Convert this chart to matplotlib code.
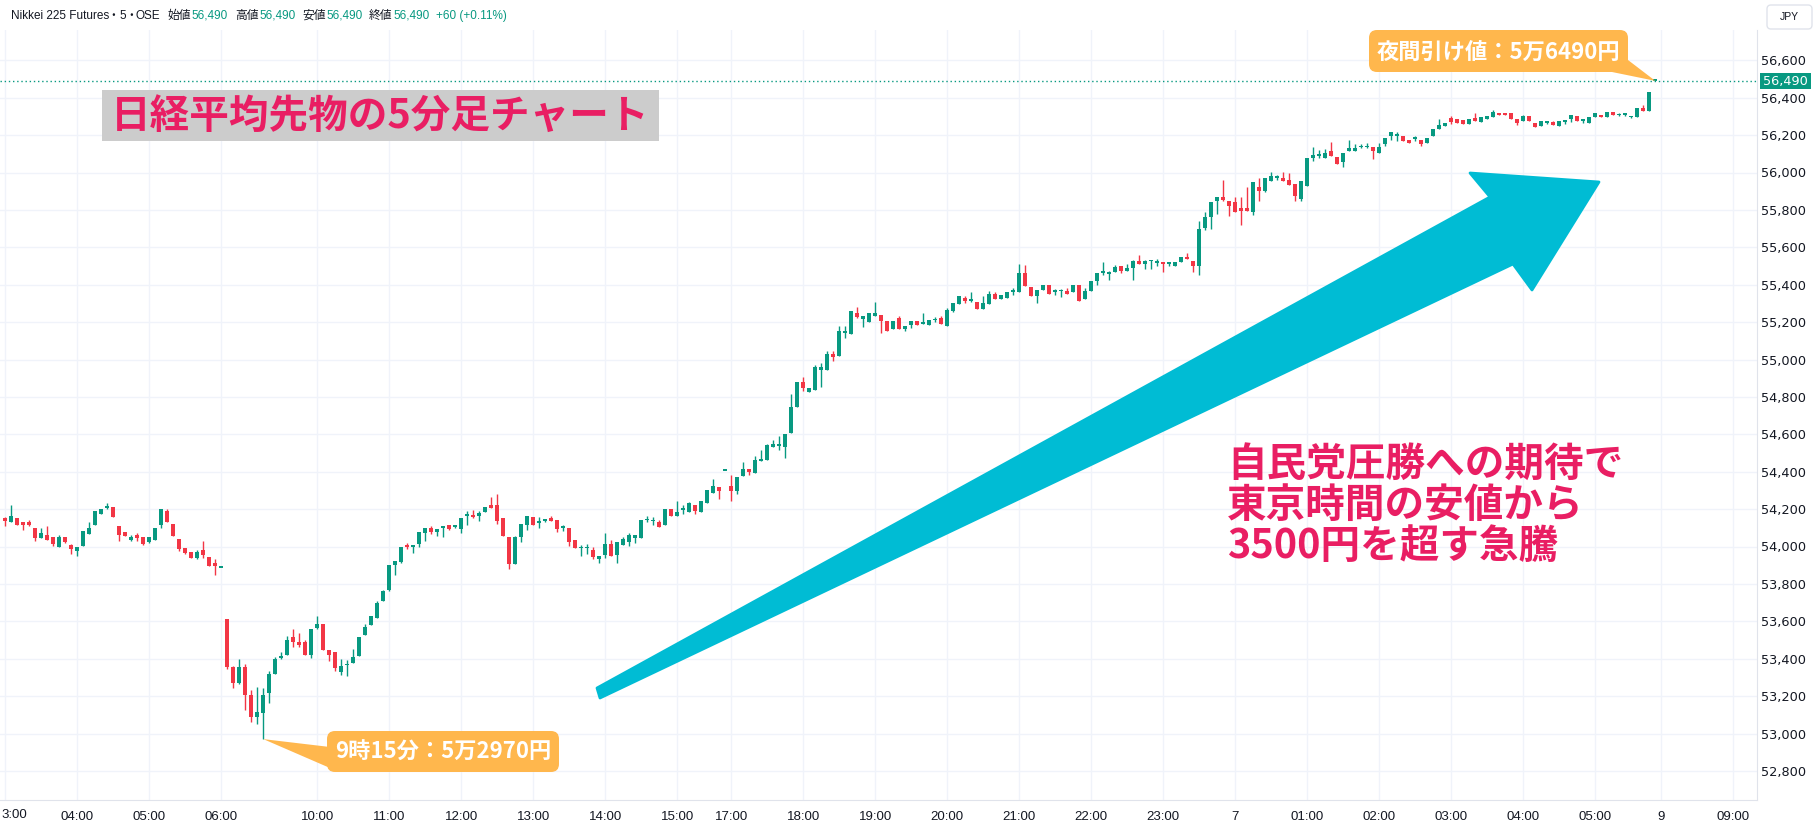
import numpy as np
import matplotlib
matplotlib.use('Agg')
import matplotlib.pyplot as plt
from matplotlib.patches import Polygon, FancyBboxPatch, Rectangle
from matplotlib.transforms import Affine2D

W, H = 1818, 835
JP = ['Noto Sans CJK JP', 'DejaVu Sans']
UP, DOWN = '#089981', '#F23645'

# 5-minute bars (open, high, low, close)
# night session tail 03:00-06:00
early_bars = [
    (54150, 54160, 54110, 54135), (54130, 54220, 54130, 54165), (54150, 54150, 54115, 54115),
    (54130, 54130, 54090, 54115), (54130, 54140, 54110, 54115), (54100, 54100, 54030, 54045),
    (54045, 54100, 54045, 54070), (54060, 54110, 54035, 54035), (54050, 54050, 54005, 54015),
    (53995, 54060, 53995, 54050), (54050, 54050, 54020, 54025), (54010, 54015, 53960, 53985),
    (53975, 54000, 53950, 54000), (54005, 54085, 54005, 54085), (54065, 54130, 54065, 54100),
    (54115, 54190, 54115, 54190), (54175, 54200, 54175, 54200), (54205, 54230, 54200, 54210),
    (54210, 54210, 54160, 54160), (54110, 54110, 54030, 54060), (54080, 54080, 54055, 54055),
    (54035, 54060, 54030, 54050), (54060, 54070, 54030, 54045), (54050, 54050, 54010, 54015),
    (54025, 54050, 54020, 54050), (54035, 54100, 54035, 54100), (54115, 54200, 54100, 54200),
    (54190, 54200, 54130, 54130), (54120, 54120, 54055, 54055), (54040, 54040, 53975, 53985),
    (53990, 53990, 53960, 53965), (53970, 53970, 53940, 53940), (53940, 53980, 53935, 53970),
    (53980, 54030, 53940, 53955), (53945, 53945, 53895, 53895), (53910, 53935, 53850, 53895),
    (53885, 53885, 53885, 53885),
]

# day session 08:45-15:45
day_bars = [
    (53610, 53610, 53345, 53355), (53355, 53360, 53245, 53270), (53270, 53400, 53265, 53355),
    (53355, 53370, 53125, 53205), (53205, 53230, 53060, 53090), (53090, 53250, 53050, 53115),
    (53110, 53245, 52970, 53205), (53215, 53335, 53165, 53320), (53320, 53410, 53320, 53400),
    (53405, 53435, 53400, 53415), (53420, 53520, 53420, 53500), (53515, 53560, 53465, 53490),
    (53490, 53540, 53465, 53475), (53490, 53500, 53420, 53420), (53420, 53560, 53405, 53560),
    (53565, 53630, 53560, 53585), (53585, 53585, 53445, 53445), (53445, 53445, 53390, 53420),
    (53435, 53435, 53335, 53350), (53330, 53400, 53315, 53360), (53365, 53395, 53305, 53370),
    (53375, 53450, 53375, 53410), (53415, 53515, 53415, 53515), (53525, 53585, 53525, 53570),
    (53580, 53630, 53580, 53630), (53615, 53710, 53615, 53700), (53710, 53770, 53710, 53760),
    (53765, 53900, 53760, 53900), (53900, 53920, 53850, 53920), (53915, 54000, 53910, 54000),
    (54010, 54020, 53985, 54000), (54000, 54005, 53965, 54005), (54015, 54080, 54000, 54080),
    (54070, 54100, 54030, 54100), (54100, 54110, 54065, 54080), (54080, 54095, 54055, 54095),
    (54100, 54110, 54050, 54105), (54115, 54115, 54090, 54095), (54105, 54110, 54100, 54110),
    (54095, 54150, 54070, 54150), (54165, 54190, 54115, 54170), (54165, 54195, 54155, 54160),
    (54165, 54190, 54135, 54180), (54185, 54210, 54185, 54210), (54220, 54265, 54205, 54205),
    (54220, 54280, 54120, 54135), (54150, 54150, 54055, 54055), (54050, 54050, 53880, 53905),
    (53905, 54055, 53905, 54050), (54050, 54120, 54025, 54120), (54115, 54165, 54090, 54165),
    (54160, 54160, 54115, 54115), (54125, 54160, 54100, 54135), (54135, 54145, 54130, 54145),
    (54150, 54165, 54135, 54135), (54140, 54140, 54075, 54095), (54100, 54115, 54085, 54105),
    (54100, 54100, 54005, 54025), (54035, 54035, 53990, 53990), (53990, 54010, 53950, 53995),
    (53990, 54015, 53960, 54000), (53980, 54000, 53935, 53945), (53935, 53950, 53910, 53950),
    (53955, 54070, 53940, 54015), (54015, 54035, 53950, 53950), (53955, 54025, 53910, 54025),
    (54010, 54050, 54010, 54040), (54025, 54070, 54005, 54060), (54045, 54060, 54020, 54060),
    (54045, 54140, 54045, 54140), (54140, 54165, 54130, 54145), (54135, 54160, 54115, 54140),
    (54130, 54140, 54105, 54105), (54115, 54200, 54115, 54200), (54200, 54200, 54165, 54165),
    (54165, 54245, 54165, 54185), (54195, 54220, 54175, 54200), (54185, 54240, 54185, 54230),
    (54220, 54220, 54175, 54190), (54185, 54245, 54185, 54245), (54235, 54300, 54235, 54300),
    (54285, 54360, 54285, 54325), (54320, 54320, 54255, 54295), (54405, 54405, 54405, 54405),
]

# night session 17:00-06:00
night_bars = [
    (54325, 54380, 54245, 54295), (54295, 54370, 54280, 54370), (54375, 54450, 54375, 54415),
    (54415, 54415, 54380, 54400), (54395, 54485, 54395, 54460), (54455, 54515, 54455, 54470),
    (54465, 54550, 54465, 54545), (54530, 54570, 54530, 54550), (54535, 54590, 54515, 54550),
    (54530, 54600, 54475, 54600), (54605, 54815, 54605, 54745), (54745, 54880, 54745, 54880),
    (54880, 54905, 54830, 54850), (54825, 54850, 54825, 54850), (54835, 54970, 54835, 54960),
    (54945, 54980, 54855, 54960), (54945, 55045, 54945, 55030), (55030, 55045, 54990, 55015),
    (55020, 55180, 55020, 55150), (55140, 55180, 55115, 55150), (55135, 55260, 55135, 55260),
    (55250, 55280, 55220, 55225), (55215, 55230, 55175, 55230), (55200, 55250, 55200, 55250),
    (55235, 55305, 55235, 55250), (55240, 55240, 55140, 55205), (55205, 55205, 55155, 55155),
    (55165, 55205, 55165, 55205), (55220, 55230, 55165, 55165), (55165, 55180, 55150, 55180),
    (55185, 55205, 55170, 55205), (55205, 55205, 55185, 55185), (55190, 55250, 55190, 55200),
    (55185, 55210, 55185, 55210), (55210, 55225, 55200, 55215), (55220, 55230, 55190, 55190),
    (55180, 55275, 55180, 55265), (55260, 55300, 55255, 55300), (55295, 55340, 55295, 55340),
    (55330, 55340, 55300, 55315), (55315, 55360, 55310, 55320), (55310, 55310, 55270, 55270),
    (55270, 55340, 55270, 55300), (55295, 55365, 55295, 55350), (55350, 55360, 55325, 55325),
    (55325, 55345, 55325, 55345), (55330, 55360, 55330, 55360), (55360, 55380, 55345, 55365),
    (55360, 55510, 55360, 55460), (55460, 55505, 55395, 55395), (55390, 55390, 55340, 55340),
    (55340, 55370, 55300, 55370), (55370, 55400, 55370, 55400), (55400, 55400, 55350, 55350),
    (55360, 55375, 55345, 55365), (55365, 55375, 55335, 55370), (55365, 55380, 55350, 55350),
    (55360, 55400, 55360, 55400), (55400, 55400, 55315, 55315), (55325, 55380, 55325, 55365),
    (55365, 55420, 55365, 55420), (55420, 55460, 55400, 55460), (55465, 55520, 55450, 55470),
    (55455, 55475, 55425, 55470), (55470, 55505, 55470, 55495), (55500, 55500, 55460, 55475),
    (55475, 55510, 55475, 55490), (55490, 55530, 55425, 55525), (55525, 55560, 55510, 55510),
    (55510, 55530, 55485, 55525), (55525, 55530, 55485, 55530), (55515, 55535, 55500, 55525),
    (55520, 55520, 55470, 55510), (55510, 55520, 55500, 55515), (55500, 55520, 55500, 55520),
    (55520, 55550, 55520, 55550), (55550, 55570, 55535, 55535), (55525, 55525, 55470, 55500),
    (55500, 55740, 55450, 55700), (55705, 55790, 55695, 55760), (55760, 55840, 55700, 55840),
    (55845, 55870, 55780, 55870), (55870, 55960, 55850, 55855), (55845, 55845, 55770, 55820),
    (55840, 55870, 55790, 55790), (55810, 55870, 55720, 55795), (55810, 55920, 55795, 55795),
    (55790, 55950, 55775, 55950), (55925, 55970, 55850, 55900), (55900, 55970, 55895, 55970),
    (55955, 56005, 55955, 55980), (55970, 55985, 55960, 55975), (55970, 56005, 55955, 55955),
    (55960, 56000, 55935, 55935), (55940, 55940, 55850, 55875), (55860, 55955, 55845, 55955),
    (55930, 56080, 55930, 56080), (56075, 56135, 56060, 56095), (56090, 56120, 56080, 56095),
    (56080, 56125, 56080, 56105), (56115, 56165, 56090, 56090), (56085, 56085, 56045, 56045),
    (56055, 56105, 56030, 56105), (56115, 56175, 56115, 56130), (56115, 56150, 56115, 56130),
    (56135, 56150, 56130, 56140), (56135, 56160, 56130, 56140), (56135, 56135, 56070, 56115),
    (56105, 56160, 56105, 56135), (56155, 56185, 56140, 56185), (56195, 56215, 56175, 56215),
    (56195, 56215, 56170, 56200), (56195, 56195, 56170, 56170), (56175, 56175, 56160, 56160),
    (56180, 56195, 56170, 56190), (56175, 56175, 56140, 56155), (56160, 56185, 56160, 56185),
    (56195, 56230, 56195, 56230), (56235, 56285, 56235, 56255), (56250, 56265, 56250, 56265),
    (56290, 56300, 56260, 56270), (56285, 56285, 56265, 56265), (56280, 56280, 56260, 56260),
    (56260, 56285, 56260, 56285), (56290, 56320, 56275, 56275), (56270, 56295, 56270, 56295),
    (56285, 56300, 56285, 56300), (56295, 56335, 56295, 56325), (56320, 56320, 56310, 56310),
    (56320, 56320, 56310, 56310), (56320, 56320, 56285, 56285), (56285, 56285, 56255, 56265),
    (56275, 56310, 56275, 56300), (56300, 56300, 56275, 56275), (56265, 56265, 56245, 56245),
    (56250, 56275, 56250, 56275), (56265, 56270, 56260, 56270), (56270, 56275, 56255, 56255),
    (56250, 56275, 56250, 56275), (56270, 56275, 56260, 56275), (56285, 56305, 56270, 56305),
    (56300, 56300, 56275, 56275), (56275, 56285, 56265, 56280), (56265, 56295, 56265, 56295),
    (56295, 56320, 56295, 56320), (56310, 56310, 56295, 56295), (56295, 56325, 56295, 56325),
    (56325, 56325, 56305, 56305), (56305, 56320, 56300, 56315), (56310, 56320, 56300, 56315),
    (56295, 56300, 56290, 56300), (56295, 56345, 56295, 56345), (56345, 56360, 56330, 56330),
    (56330, 56430, 56330, 56430), (56490, 56490, 56490, 56490),
]

tick_pos = [0, 12, 24, 36, 52, 64, 76, 88, 100, 112, 121, 133, 145, 157, 169, 181,
            193, 205, 217, 229, 241, 253, 265, 276, 288]
tick_labels = ['', '04:00', '05:00', '06:00', '10:00', '11:00', '12:00', '13:00',
               '14:00', '15:00', '17:00', '18:00', '19:00', '20:00', '21:00', '22:00',
               '23:00', '7', '01:00', '02:00', '03:00', '04:00', '05:00', '9', '09:00']
price_ticks = list(range(52800, 56601, 200))
last_price = 56490
low_price = 52970

bars = np.array(early_bars + day_bars + night_bars, dtype=float)
o, h, l, c = bars.T
idx = np.arange(len(bars))
cols = np.where(c >= o, UP, DOWN)

fig = plt.figure(figsize=(W / 100, H / 100), dpi=100)
pix = Affine2D().scale(1, -1).translate(0, H)   # pixel coords, origin top-left

ax_top, ax_bot, ax_right = 30, 800, 1757
ax = fig.add_axes([0, 1 - ax_bot / H, ax_right / W, (ax_bot - ax_top) / H])
ax.set_xlim(-0.883, (ax_right - 5.3) / 6)
ax.set_ylim(56600 - (ax_bot - 60.3) * 200 / 37.4, 56600 + (60.3 - ax_top) * 200 / 37.4)

ax.vlines(idx, l, h, colors=cols, linewidth=1, zorder=3)
ax.bar(idx, np.maximum(np.abs(c - o), 9), bottom=np.minimum(o, c), width=0.7,
       color=cols, linewidth=0, zorder=4)

for x in tick_pos:
    ax.axvline(x, color='#f0f3fa', linewidth=1, zorder=0)
for p in price_ticks:
    ax.axhline(p, color='#f0f3fa', linewidth=1, zorder=0)

ax.axhline(last_price, color=UP, linewidth=1, linestyle=(0, (1, 2)), zorder=2)

ax.set_xticks(tick_pos)
ax.set_xticklabels(tick_labels, family='Liberation Sans', fontsize=9.5)
ax.yaxis.tick_right()
ax.set_yticks(price_ticks)
ax.set_yticklabels([f'{p:,}' for p in price_ticks], family='DejaVu Sans', fontsize=9.3)
ax.tick_params(axis='both', length=0, labelcolor='#131722')
ax.tick_params(axis='y', pad=3)
ax.tick_params(axis='x', pad=8)
for s in ['top', 'left']:
    ax.spines[s].set_visible(False)
ax.spines['bottom'].set_color('#e0e3eb')
ax.spines['right'].set_color('#e0e3eb')
fig.text(1, 815, '3:00', transform=pix, family='Liberation Sans', fontsize=9.5,
         color='#131722', ha='left', va='center')

# header line
HDR = ['Liberation Sans', 'Noto Sans CJK JP']
DARK = '#131722'
parts = [('Nikkei 225 Futures', DARK, 11, 'left'), ('・', DARK, 113, 'center'),
         ('5', DARK, 119, 'left'), ('・', DARK, 131, 'center'), ('OSE', DARK, 136, 'left'),
         ('始値', DARK, 167, 'left'), ('56,490', UP, 191, 'left'),
         ('高値', DARK, 235, 'left'), ('56,490', UP, 259, 'left'),
         ('安値', DARK, 302, 'left'), ('56,490', UP, 326, 'left'),
         ('終値', DARK, 369, 'left'), ('56,490', UP, 393, 'left'),
         ('+60 (+0.11%)', UP, 436, 'left')]
for s, col, x, ha in parts:
    fig.text(x, 16, s, transform=pix, color=col, fontsize=8.5, family=HDR, va='center', ha=ha)

# JPY box and last price tag
fig.patches.append(FancyBboxPatch((1767, 5), 45, 24, boxstyle='round,pad=0,rounding_size=4',
                                  transform=pix, fc='white', ec='#e0e3eb', lw=1))
fig.text(1789.5, 17, 'JPY', transform=pix, fontsize=7.5, family='Liberation Sans',
         color=DARK, ha='center', va='center')
fig.patches.append(Rectangle((1760, 73), 51, 16, transform=pix, fc=UP, ec='none'))
fig.text(1785.5, 81, f'{last_price:,}', transform=pix, fontsize=9.3, family='DejaVu Sans',
         color='white', ha='center', va='center')

# title box
fig.patches.append(Rectangle((102, 90), 557, 51, transform=pix, fc='#cccccc', ec='none'))
fig.text(380, 116, '日経平均先物の5分足チャート', transform=pix, fontsize=28.5,
         family=JP, fontweight='bold', color='#e91e63', ha='center', va='center')

# big cyan arrow
arrow = [(597, 688), (1490, 197), (1470, 173), (1599, 182), (1532, 290), (1513, 264), (600, 698)]
fig.patches.append(Polygon(arrow, closed=True, transform=pix, fc='#00bcd4', ec='#00bcd4',
                           lw=2, joinstyle='round'))

# comment text
for y, s in zip([464, 505, 547], ['自民党圧勝への期待で', '東京時間の安値から', '3500円を超す急騰']):
    fig.text(1227, y, s, transform=pix, fontsize=28.5, family=JP, fontweight='bold',
             color='#e91e63', ha='left', va='center')

# callouts
ORANGE = '#ffb74d'
tip_low = ax.transData.transform((37 + 6, low_price))
tip_low = (tip_low[0], H - tip_low[1])
fig.patches.append(Polygon([tip_low, (330, 747), (330, 768)], transform=pix, fc=ORANGE, ec='none'))
fig.patches.append(FancyBboxPatch((327, 731), 232, 41, boxstyle='round,pad=0,rounding_size=8',
                                  transform=pix, fc=ORANGE, ec='none'))
fig.text(443, 752, '9時15分：5万2970円', transform=pix, fontsize=16, family=JP,
         fontweight='bold', color='white', ha='center', va='center')

tip_last = ax.transData.transform((len(bars) - 1, last_price))
tip_last = (tip_last[0], H - tip_last[1])
fig.patches.append(Polygon([tip_last, (1628, 60), (1612, 72)], transform=pix, fc=ORANGE, ec='none'))
fig.patches.append(FancyBboxPatch((1369, 30), 259, 42, boxstyle='round,pad=0,rounding_size=8',
                                  transform=pix, fc=ORANGE, ec='none'))
fig.text(1498, 52, '夜間引け値：5万6490円', transform=pix, fontsize=16, family=JP,
         fontweight='bold', color='white', ha='center', va='center')

fig.savefig('out.png', dpi=100, facecolor='white')
plt.close(fig)
